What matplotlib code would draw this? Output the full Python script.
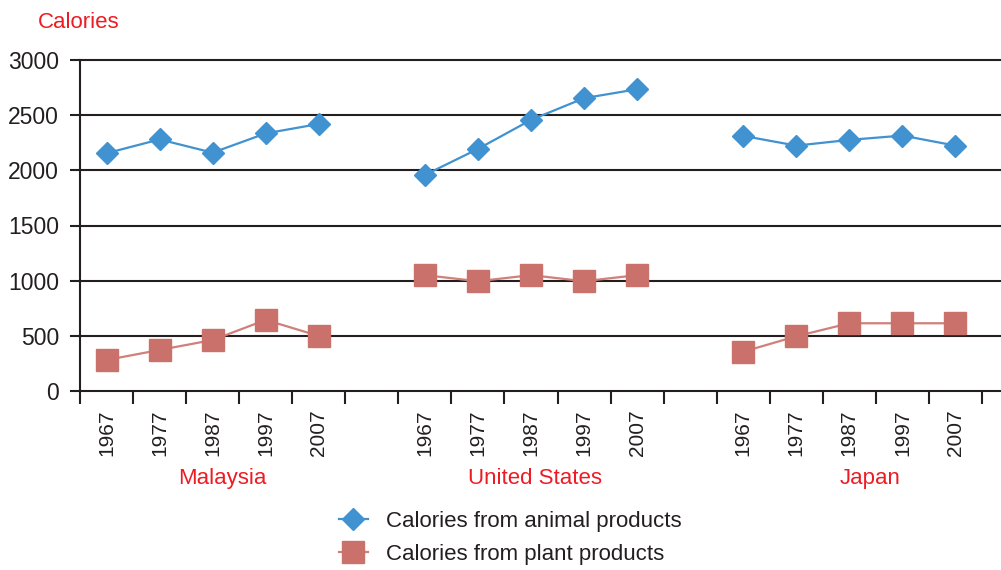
import matplotlib.pyplot as plt
from matplotlib.lines import Line2D

plt.rcParams['font.family'] = ['Liberation Sans', 'DejaVu Sans']

# data
countries = ['Malaysia', 'United States', 'Japan']
years = ['1967', '1977', '1987', '1997', '2007']
animal = [
    [2155, 2280, 2160, 2335, 2420],
    [1958, 2194, 2457, 2654, 2735],
    [2312, 2224, 2276, 2315, 2224],
]
plant = [
    [281, 372, 462, 644, 499],
    [1050, 995, 1050, 995, 1050],
    [356, 496, 614, 614, 614],
]
yticks = [0, 500, 1000, 1500, 2000, 2500, 3000]

blue = '#4192d0'
red_mark = '#c9716a'
red_line = '#d08079'
dark = '#231f20'
red_txt = '#ed1c24'

fig = plt.figure(figsize=(10.01, 5.70), dpi=100)
ax = fig.add_axes([80 / 1001, 1 - 391 / 570, 921 / 1001, 331 / 570])

n = len(years)
step = n + 1
for g in range(len(countries)):
    xs = [g * step + j + 0.5 for j in range(n)]
    ax.plot(xs, animal[g], color=blue, lw=1.6, marker='D', ms=11.5,
            mfc=blue, mec=blue, zorder=4)
    ax.plot(xs, plant[g], color=red_line, lw=1.6, marker='s', ms=16,
            mfc=red_mark, mec=red_mark, zorder=4)

total = len(countries) * step - 1
ax.set_xlim(0, (1001 - 80) / ((982 - 80) / total))
ax.set_ylim(0, 3000)

for y in yticks:
    ax.axhline(y, color=dark, lw=1.5, zorder=1, clip_on=False)

for s in ['top', 'right', 'bottom']:
    ax.spines[s].set_visible(False)
ax.spines['left'].set_color(dark)
ax.spines['left'].set_linewidth(1.5)

ax.set_yticks(yticks)
ax.set_yticklabels([str(v) for v in yticks])
ax.tick_params(axis='y', length=7.2, width=1.5, color=dark, labelsize=16.5,
               labelcolor=dark, pad=8)

ax.set_xticks(range(total + 1))
ax.set_xticklabels([])
centers = []
labels = []
for g in range(len(countries)):
    for j in range(n):
        centers.append(g * step + j + 0.5)
        labels.append(years[j])
ax.set_xticks(centers, minor=True)
ax.set_xticklabels(labels, minor=True, rotation=90)
ax.tick_params(axis='x', which='major', length=9.4, width=1.5, color=dark)
ax.tick_params(axis='x', which='minor', length=0, labelsize=15,
               labelcolor=dark, pad=13)

group_x = [2.68, 8.58, 14.89]
for name, gx in zip(countries, group_x):
    ax.text(gx, -790, name, color=red_txt, fontsize=16, ha='center',
            va='center')

fig.text(38 / 1001, 1 - 22 / 570, 'Calories', color=red_txt, fontsize=16,
         ha='left', va='center')

handles = [
    Line2D([], [], color=blue, lw=1.6, marker='D', ms=11.5, mfc=blue, mec=blue),
    Line2D([], [], color=red_line, lw=1.6, marker='s', ms=16, mfc=red_mark,
           mec=red_mark),
]
leg = fig.legend(handles, ['Calories from animal products',
                           'Calories from plant products'],
                 loc='center', bbox_to_anchor=(510 / 1001, 1 - 538 / 570),
                 frameon=False, fontsize=16, handlelength=1.3,
                 handletextpad=0.8, labelspacing=0.55)
for t in leg.get_texts():
    t.set_color(dark)

fig.savefig('out.png', dpi=100)
